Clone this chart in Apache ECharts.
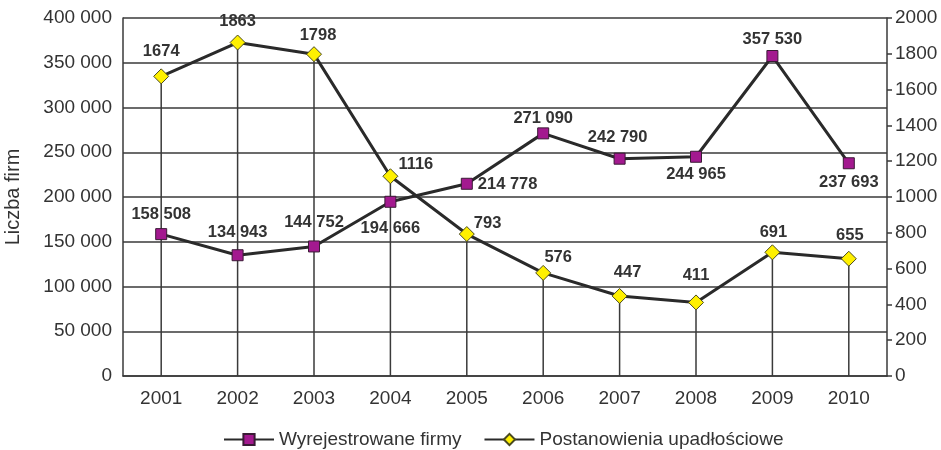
<!DOCTYPE html>
<html>
<head>
<meta charset="utf-8">
<script src="https://cdn.jsdelivr.net/npm/echarts@6/dist/echarts.min.js"></script>
<style>
  html, body { margin: 0; padding: 0; background: #fff; }
  #chart { width: 941px; height: 450px; }
</style>
</head>
<body>
<div id="chart"></div>
<script>
// Years on the category axis
const years = ['2001', '2002', '2003', '2004', '2005', '2006', '2007', '2008', '2009', '2010'];
// Deregistered firms (left axis)
const deregistered = [158508, 134943, 144752, 194666, 214778, 271090, 242790, 244965, 357530, 237693];
// Bankruptcy rulings (right axis)
const bankruptcies = [1674, 1863, 1798, 1116, 793, 576, 447, 411, 691, 655];
// Series names
const nameFirms = 'Wyrejestrowane firmy';
const nameBankr = 'Postanowienia upadłościowe';
const axisName = 'Liczba firm';

// Label placement per point: [position, dx, dy]
const firmsLabelPlace = [
  ['top', 0, 0], ['top', 0, -3], ['top', 0, -4], ['bottom', 0, 7], ['right', 0, 1],
  ['top', 0, 5], ['top', -2, -2], ['bottom', 0, -2], ['top', 0, 3], ['bottom', 0, 0]
];
const bankrLabelPlace = [
  ['top', 0, -3], ['top', 0, 0], ['top', 4, 3], ['right', -5, -12], ['right', -6, -11],
  ['top', 15, 6], ['top', 8, -2], ['top', 0, -5], ['top', 1, 2], ['top', 1, -2]
];

const TXT = '#333333';
const FONT = '"Liberation Sans", Arial, sans-serif';
const GRID = '#3a3a3a';

function spaced(v) {
  return String(v).replace(/\B(?=(\d{3})+(?!\d))/g, ' ');
}

function withLabels(values, places) {
  return values.map((v, i) => ({
    value: v,
    label: { position: places[i][0], offset: [places[i][1], places[i][2]] }
  }));
}

const chart = echarts.init(document.getElementById('chart'), null, { renderer: 'canvas' });

chart.setOption({
  backgroundColor: '#ffffff',
  animation: false,
  textStyle: { fontFamily: FONT, color: TXT },
  grid: { left: 123, right: 54, top: 18, bottom: 74, containLabel: false, outerBoundsMode: 'none' },
  legend: {
    left: 218,
    top: 425,
    itemWidth: 50,
    itemHeight: 14,
    itemGap: 22,
    data: [nameFirms, nameBankr],
    textStyle: { fontFamily: FONT, fontSize: 19, color: TXT }
  },
  xAxis: {
    type: 'category',
    data: years,
    boundaryGap: true,
    axisLine: { show: true, lineStyle: { color: GRID, width: 1.5 } },
    axisTick: { show: false },
    axisLabel: { fontSize: 19, color: TXT, margin: 13, fontFamily: FONT },
    splitLine: { show: false }
  },
  yAxis: [
    {
      type: 'value',
      min: 0, max: 400000, interval: 50000,
      name: axisName,
      nameLocation: 'middle',
      nameGap: 100,
      nameTextStyle: { fontSize: 20, color: TXT, fontFamily: FONT },
      axisLine: { show: true, lineStyle: { color: GRID, width: 1.5 } },
      axisTick: { show: false },
      axisLabel: { fontSize: 19, color: TXT, margin: 11, formatter: spaced, fontFamily: FONT },
      splitLine: { show: true, lineStyle: { color: GRID, width: 1.5 } }
    },
    {
      type: 'value',
      min: 0, max: 2000, interval: 200,
      position: 'right',
      axisLine: { show: true, lineStyle: { color: GRID, width: 1.5 } },
      axisTick: { show: true, inside: false, length: 5, lineStyle: { color: GRID, width: 1.5 } },
      axisLabel: { fontSize: 19, color: TXT, margin: 8, fontFamily: FONT, formatter: v => String(v) },
      splitLine: { show: false }
    }
  ],
  series: [
    {
      // drop lines from each bankruptcy point to the axis
      name: 'drop',
      type: 'bar',
      yAxisIndex: 1,
      data: bankruptcies,
      barWidth: 1.5,
      silent: true,
      z: 1,
      itemStyle: { color: GRID },
      label: { show: false }
    },
    {
      name: nameFirms,
      type: 'line',
      yAxisIndex: 0,
      data: withLabels(deregistered, firmsLabelPlace),
      symbol: 'rect',
      symbolSize: 11,
      z: 3,
      lineStyle: { color: '#2a2a2a', width: 3 },
      itemStyle: { color: '#a3198f', borderColor: '#3a1a35', borderWidth: 1 },
      label: {
        show: true,
        fontSize: 16.5, fontWeight: 'bold', color: TXT, fontFamily: FONT,
        distance: 5,
        formatter: p => spaced(p.value)
      }
    },
    {
      name: nameBankr,
      type: 'line',
      yAxisIndex: 1,
      data: withLabels(bankruptcies, bankrLabelPlace),
      symbol: 'diamond',
      symbolSize: 15,
      z: 4,
      lineStyle: { color: '#2a2a2a', width: 3 },
      itemStyle: { color: '#fff000', borderColor: '#4a4a20', borderWidth: 1 },
      label: {
        show: true,
        fontSize: 16.5, fontWeight: 'bold', color: TXT, fontFamily: FONT,
        distance: 5
      }
    }
  ]
});
</script>
</body>
</html>
